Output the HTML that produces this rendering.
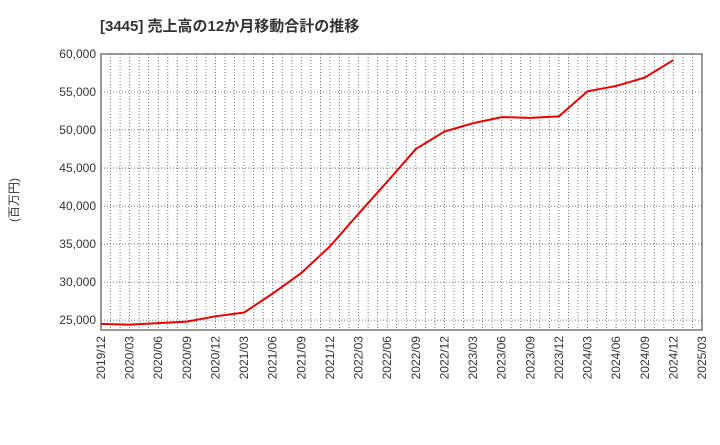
<!DOCTYPE html>
<html><head><meta charset="utf-8"><style>
body{margin:0;background:#fff;font-family:"Liberation Sans","Noto Sans CJK JP",sans-serif;}
</style></head><body>
<svg width="720" height="440" xmlns="http://www.w3.org/2000/svg">
<text x="100" y="31" font-size="15" font-weight="bold" fill="#333" font-family="Liberation Sans, Noto Sans CJK JP, sans-serif">[3445]  売上高の12か月移動合計の推移</text>
<text transform="translate(18,200) rotate(-90)" text-anchor="middle" font-size="12" fill="#333" font-family="Liberation Sans, Noto Sans CJK JP, sans-serif">(百万円)</text>
<g id="grid"></g>
<rect x="101" y="54" width="601" height="276" fill="none" stroke="#333" stroke-width="1"/>
<g id="yt"></g><g id="xt"></g>
<polyline id="line" fill="none" stroke="#e00" stroke-width="2"/>
</svg>
<script>
const quarters=["2019/12","2020/03","2020/06","2020/09","2020/12","2021/03","2021/06","2021/09","2021/12","2022/03","2022/06","2022/09","2022/12","2023/03","2023/06","2023/09","2023/12","2024/03","2024/06","2024/09","2024/12","2025/03"];
const values=[24500,24400,24600,24800,25500,26000,28500,31200,34700,39000,43200,47500,49800,50900,51700,51600,51800,55100,55800,56900,59200];
const yTicks=[25000,30000,35000,40000,45000,50000,55000,60000];
const X0=101,X1=702,Y0=330,Y1=54,VMIN=23700,VMAX=60000;
const xs=i=>X0+(X1-X0)*i/(quarters.length-1);
const ys=v=>Y0-(v-VMIN)/(VMAX-VMIN)*(Y0-Y1);
const NS="http://www.w3.org/2000/svg";
const grid=document.getElementById('grid'),yt=document.getElementById('yt'),xt=document.getElementById('xt');
for(let m=1;m<(quarters.length-1)*3;m++){
 const x=X0+(X1-X0)*m/((quarters.length-1)*3);
 const l=document.createElementNS(NS,'line');
 
 
 l.setAttribute('x1',x);l.setAttribute('x2',x);l.setAttribute('y1',Y1);l.setAttribute('y2',Y0);
 l.setAttribute('stroke','#555');l.setAttribute('stroke-dasharray','1,2');l.setAttribute('stroke-width','0.8');
 grid.appendChild(l);
}
yTicks.forEach(v=>{
 const y=ys(v);
 const l=document.createElementNS(NS,'line');
 
 
 l.setAttribute('x1',X0);l.setAttribute('x2',X1);l.setAttribute('y1',y);l.setAttribute('y2',y);
 l.setAttribute('stroke','#555');l.setAttribute('stroke-dasharray','1,2');l.setAttribute('stroke-width','0.8');
 grid.appendChild(l);
 const t=document.createElementNS(NS,'text');
 
 
 t.setAttribute('x',X0-5);t.setAttribute('y',y+4);t.setAttribute('text-anchor','end');
 t.setAttribute('font-size','12');t.setAttribute('fill','#333');
 t.textContent=v.toLocaleString('en-US');
 yt.appendChild(t);
});
quarters.forEach((q,i)=>{
 const x=xs(i);
 const t=document.createElementNS(NS,'text');
 
 
 t.setAttribute('transform',`translate(${x+4},${Y0+6}) rotate(-90)`);
 t.setAttribute('text-anchor','end');t.setAttribute('font-size','12');t.setAttribute('fill','#333');
 t.textContent=q;
 xt.appendChild(t);
});
document.getElementById('line').setAttribute('points',values.map((v,i)=>xs(i)+','+ys(v)).join(' '));
</script>
</body></html>
